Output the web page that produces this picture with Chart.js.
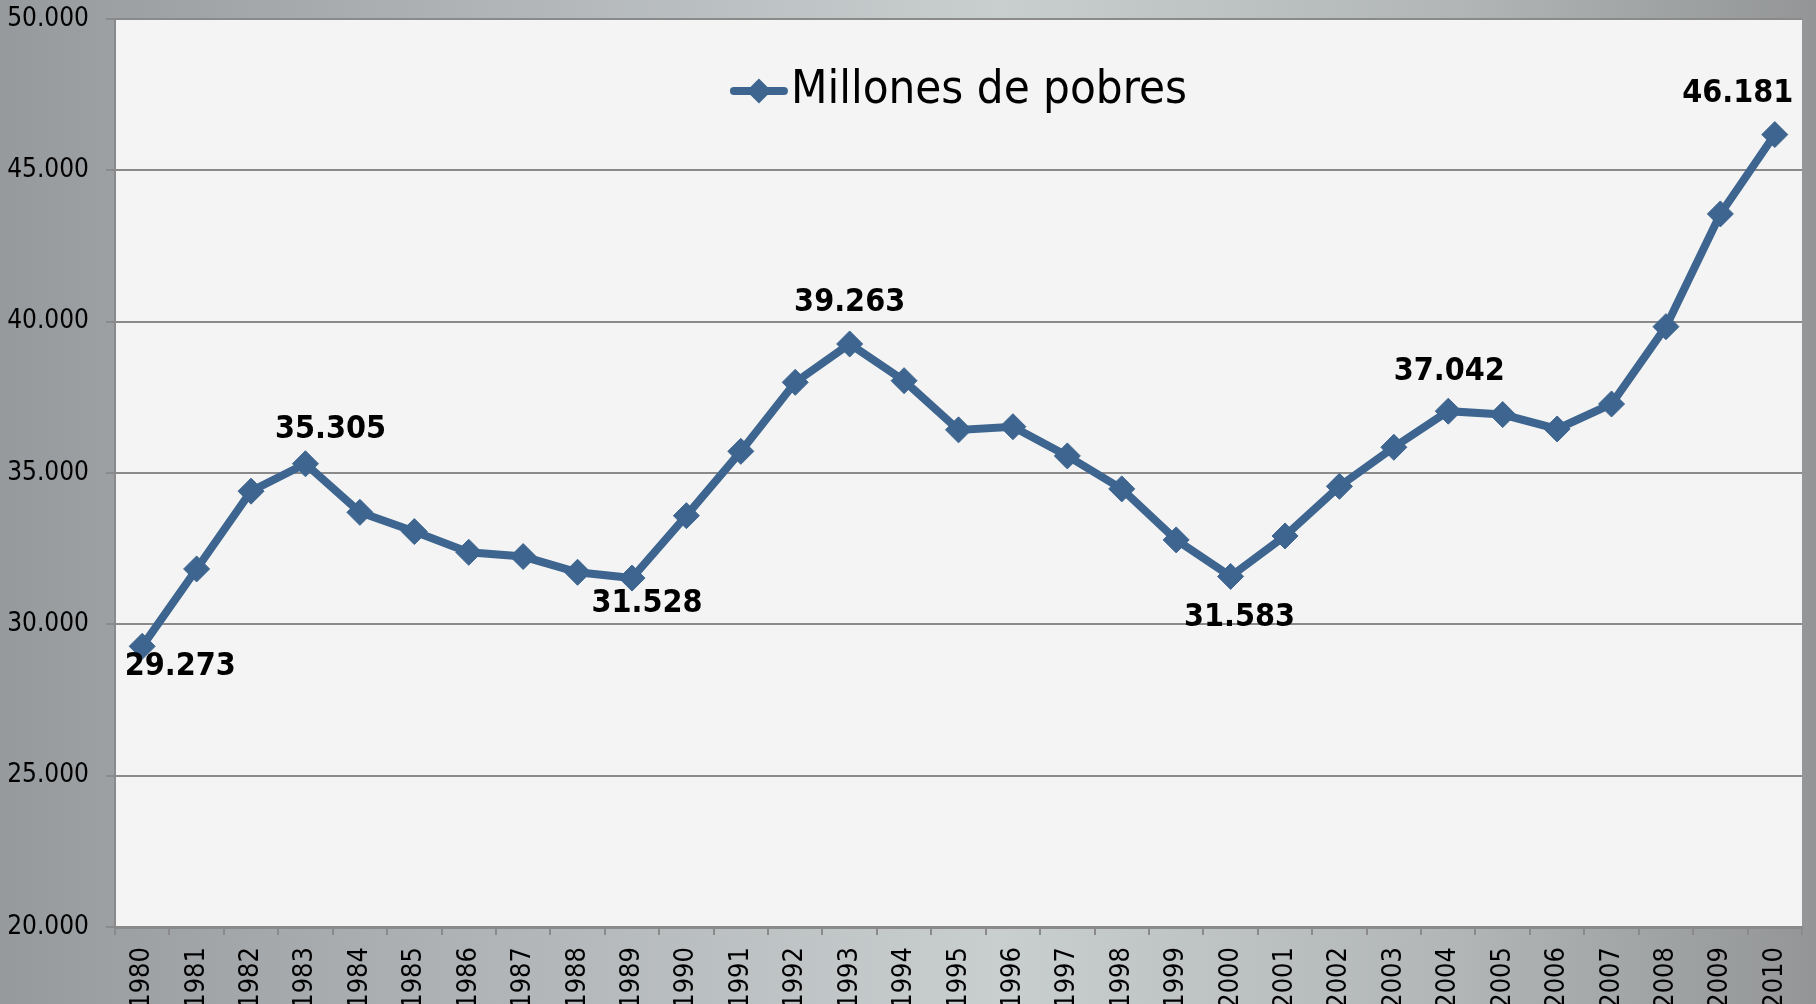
<!DOCTYPE html>
<html>
<head>
<meta charset="utf-8">
<script src="https://cdn.jsdelivr.net/npm/chart.js@4.4.1/dist/chart.umd.min.js"></script>
<style>
  html, body { margin: 0; padding: 0; }
  body {
    width: 1816px; height: 1004px; overflow: hidden;
    background: linear-gradient(to right, #979a9c 0%, #b3b7b9 30%, #c9cecf 55%, #b2b6b7 80%, #939596 100%);
  }
  canvas { display: block; }
</style>
</head>
<body>
<canvas id="grafico" width="1816" height="1004"></canvas>
<script>
const anios = ["1980","1981","1982","1983","1984","1985","1986","1987","1988","1989","1990",
  "1991","1992","1993","1994","1995","1996","1997","1998","1999","2000",
  "2001","2002","2003","2004","2005","2006","2007","2008","2009","2010"];
const millonesPobres = [29273, 31830, 34400, 35305, 33700, 33065, 32380, 32240, 31720, 31528, 33590,
  35715, 37995, 39263, 38050, 36425, 36530, 35565, 34475, 32790, 31583,
  32920, 34560, 35850, 37042, 36930, 36455, 37280, 39835, 43560, 46181];
const etiquetados = [0, 3, 9, 13, 20, 24, 30];
const ticksY = [20000, 25000, 30000, 35000, 40000, 45000, 50000];

const fuente = "'DejaVu Sans Condensed', 'DejaVu Sans', sans-serif";
const azul = '#3d6590';
const gris = '#8a8a8a';

// desplazamiento de cada etiqueta respecto a su punto (px)
const ajusteEtiqueta = {
  0: [38, 20], 3: [25, -34], 9: [15, 26], 13: [0, -41],
  20: [9, 41], 24: [1, -40], 30: [-37, -41]
};

function formatoMiles(v) {
  return v.toLocaleString('de-DE');
}

const fondoArea = {
  id: 'fondoArea',
  beforeDraw(chart) {
    const { ctx, chartArea: a } = chart;
    ctx.save();
    ctx.fillStyle = '#f3f4f3';
    ctx.fillRect(a.left, a.top, a.right - a.left, a.bottom - a.top);
    ctx.restore();
  }
};

// leyenda dentro del area: linea con rombo + texto
const leyenda = {
  id: 'leyenda',
  afterDraw(chart) {
    const { ctx, chartArea: a } = chart;
    const ds = chart.data.datasets[0];
    ctx.save();
    ctx.font = '47px ' + fuente;
    const tw = ctx.measureText(ds.label).width;
    const mw = 58, gap = 3;
    const x0 = (a.left + a.right) / 2 - (mw + gap + tw) / 2;
    const y = a.top + 72;
    ctx.strokeStyle = ds.borderColor;
    ctx.lineWidth = 8;
    ctx.lineCap = 'round';
    ctx.beginPath(); ctx.moveTo(x0 + 4, y); ctx.lineTo(x0 + mw - 4, y); ctx.stroke();
    ctx.fillStyle = ds.borderColor;
    const cx = x0 + mw / 2;
    ctx.beginPath();
    ctx.moveTo(cx, y - 12.5); ctx.lineTo(cx + 12.5, y); ctx.lineTo(cx, y + 12.5); ctx.lineTo(cx - 12.5, y);
    ctx.closePath(); ctx.fill();
    ctx.fillStyle = '#000';
    ctx.textAlign = 'left';
    ctx.textBaseline = 'middle';
    ctx.fillText(ds.label, x0 + mw + gap, y);
    ctx.restore();
  }
};

const etiquetasValores = {
  id: 'etiquetasValores',
  afterDatasetsDraw(chart) {
    const ctx = chart.ctx;
    const meta = chart.getDatasetMeta(0);
    ctx.save();
    ctx.font = 'bold 32px ' + fuente;
    ctx.fillStyle = '#000';
    ctx.textAlign = 'center';
    ctx.textBaseline = 'middle';
    etiquetados.forEach(i => {
      const p = meta.data[i];
      const d = ajusteEtiqueta[i] || [0, -40];
      ctx.fillText(formatoMiles(millonesPobres[i]), p.x + d[0], p.y + d[1]);
    });
    ctx.restore();
  }
};

const ctx = document.getElementById('grafico').getContext('2d');
new Chart(ctx, {
  type: 'line',
  data: {
    labels: anios,
    datasets: [{
      label: 'Millones de pobres',
      data: millonesPobres,
      borderColor: azul,
      backgroundColor: azul,
      borderWidth: 8,
      pointStyle: 'rectRot',
      pointRadius: 13,
      pointBorderWidth: 1,
      tension: 0
    }]
  },
  options: {
    responsive: false,
    animation: false,
    layout: { padding: { top: 19, right: 13, left: 0, bottom: 0 } },
    plugins: {
      tooltip: { enabled: false },
      legend: { display: false }
    },
    scales: {
      x: {
        offset: true,
        afterFit(s) { s.height = 77; s.paddingLeft = 0; s.paddingRight = 0; },
        grid: { offset: true, drawOnChartArea: false, color: gris, lineWidth: 2, tickLength: 8 },
        border: { color: gris, width: 3 },
        ticks: {
          autoSkip: false, minRotation: 90, maxRotation: 90, padding: 12,
          color: '#000', font: { family: fuente, size: 27 }
        }
      },
      y: {
        min: ticksY[0],
        max: ticksY[ticksY.length - 1],
        afterFit(s) { s.width = 115; s.paddingTop = 0; s.paddingBottom = 0; },
        afterBuildTicks(s) { s.ticks = ticksY.map(v => ({ value: v })); },
        grid: { color: gris, lineWidth: 2, tickLength: 9 },
        border: { color: gris, width: 2 },
        ticks: {
          padding: 17, color: '#000',
          font: { family: fuente, size: 26 },
          callback: v => formatoMiles(v)
        }
      }
    }
  },
  plugins: [fondoArea, etiquetasValores, leyenda]
});
</script>
</body>
</html>
